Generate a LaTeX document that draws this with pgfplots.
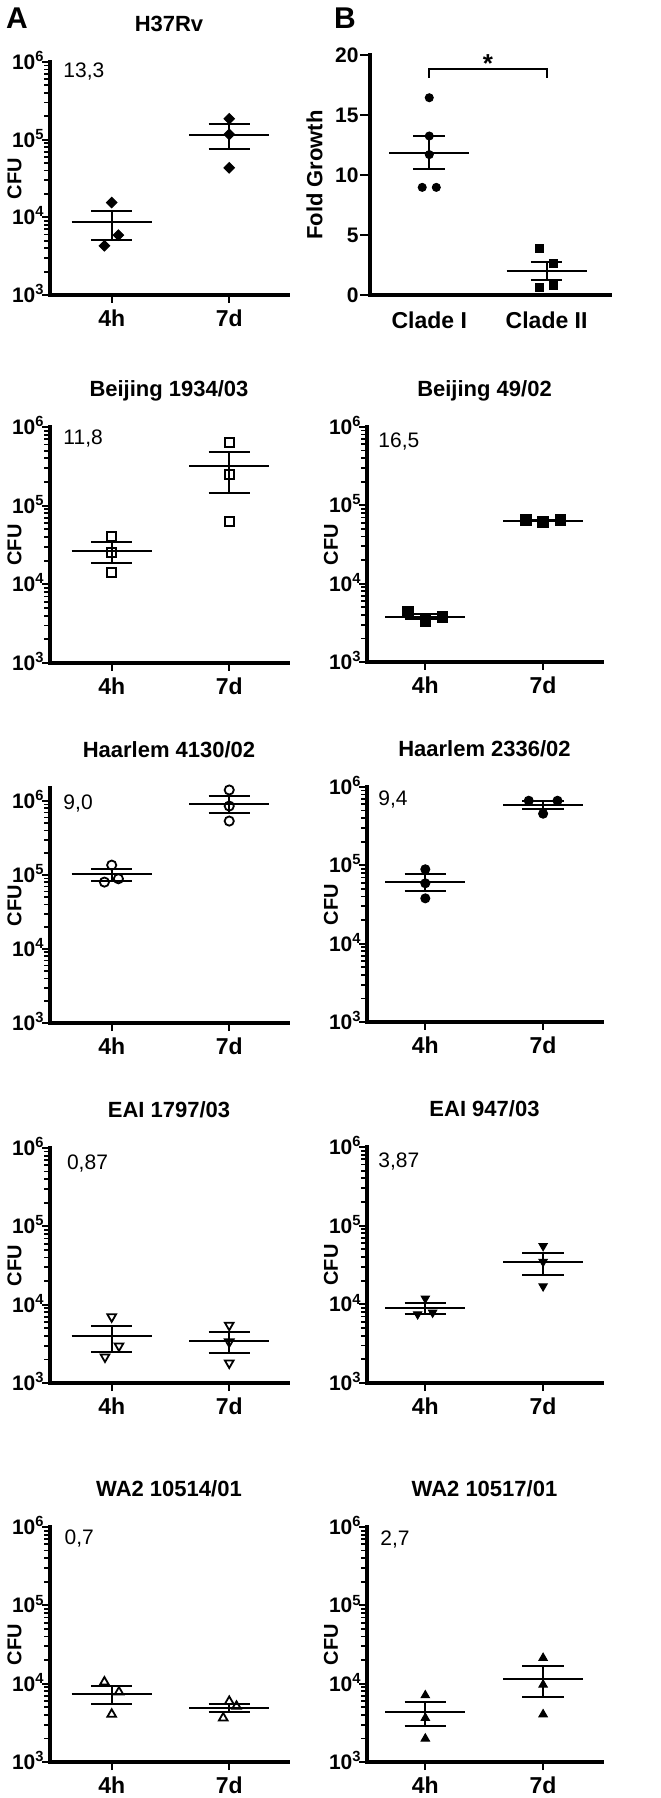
\documentclass[border=0pt]{standalone}
\usepackage{fontspec}
\setmainfont{Liberation Sans}
\usepackage{pgfplots}
\pgfplotsset{compat=1.18}

\tikzset{ann/.style={anchor=west, inner sep=0pt, font=\fontsize{10.5}{12}\selectfont}}
\pgfplotsset{msl/.style={mark=none, black, line width=1pt, line cap=butt}}
\newcommand{\msA}[3]{%
  \addplot[msl] coordinates {(-0.34,#1) (0.34,#1)};
  \addplot[msl] coordinates {(-0.175,#3) (0.175,#3)};
  \addplot[msl] coordinates {(-0.175,#2) (0.175,#2)};
  \addplot[msl] coordinates {(0,#2) (0,#3)};}
\newcommand{\msB}[3]{%
  \addplot[msl] coordinates {(0.66,#1) (1.34,#1)};
  \addplot[msl] coordinates {(0.825,#3) (1.175,#3)};
  \addplot[msl] coordinates {(0.825,#2) (1.175,#2)};
  \addplot[msl] coordinates {(1,#2) (1,#3)};}

\begin{document}
\begin{tikzpicture}
\path[use as bounding box] (0,0) rectangle (330pt,-899pt);
\node[font=\fontsize{15}{17}\selectfont\bfseries] at (8.5pt,-9pt) {A};
\node[font=\fontsize{15}{17}\selectfont\bfseries] at (172.5pt,-9pt) {B};

% ---------- H37Rv
\begin{axis}[ymode=log, ymin=1e3, ymax=1e6, xmin=-0.525, xmax=1.5, width=119pt, height=116.5pt,
  scale only axis, anchor=south west, at={(25pt,-147.5pt)}, axis x line*=bottom, axis y line*=left, tick pos=left,
  axis line style={line width=1.6pt, line cap=rect, black}, clip=false,
  tick align=outside, tick style={line width=0.9pt, black}, major tick length=4pt, minor tick length=2.8pt,
  xtick={0,1}, xticklabels={4h,7d}, ytick={1e3,1e4,1e5,1e6},
  yticklabels={10\textsuperscript{3},10\textsuperscript{4},10\textsuperscript{5},10\textsuperscript{6}},
  minor ytick={2000,3000,4000,5000,6000,7000,8000,9000,20000,30000,40000,50000,60000,70000,80000,90000,200000,300000,400000,500000,600000,700000,800000,900000},
  xticklabel style={font=\fontsize{11.5}{13}\selectfont\bfseries},
  yticklabel style={font=\fontsize{10.5}{12}\selectfont\bfseries, anchor=base east, yshift=-3.8pt, xshift=1.5pt, inner sep=0pt},
  title style={font=\fontsize{11}{13}\selectfont\bfseries, at={(0.5,1)}, anchor=base, yshift=9.4pt},
  ylabel style={font=\fontsize{10}{12}\selectfont\bfseries, at={(axis description cs:-0.149,0.5)}, anchor=center},
  ylabel={CFU}, title={H37Rv}]
\addplot[only marks, black, mark=square*, mark size=1.85pt, mark options={rotate=45, line width=0.5pt}]
  coordinates {(0,15500) (0.057,5900) (-0.062,4300) (1,186000) (1,117000) (1,43400)};
\msA{8600}{5100}{12000}
\msB{116000}{76000}{158000}
\node[ann] at (rel axis cs:0.055,0.957) {13,3};
\end{axis}

% ---------- B: fold growth
\begin{axis}[ymin=0, ymax=20, xmin=-0.505, xmax=1.54, width=120pt, height=120pt,
  scale only axis, anchor=south west, at={(185pt,-147.5pt)}, axis x line*=bottom, axis y line*=left, tick pos=left,
  axis line style={line width=1.6pt, line cap=rect, black}, clip=false,
  tick align=outside, tick style={line width=1pt, black}, major tick length=5pt,
  xtick={0,1}, xticklabels={Clade I,Clade II}, xtick style={draw=none},
  ytick={0,5,10,15,20}, yticklabels={0,5,10,15,20},
  xticklabel style={font=\fontsize{11.5}{13}\selectfont\bfseries},
  yticklabel style={font=\fontsize{10.5}{12}\selectfont\bfseries, inner sep=0.5pt},
  ylabel style={font=\fontsize{11}{13}\selectfont\bfseries, at={(axis description cs:-0.231,0.5)}, anchor=center},
  ylabel={Fold Growth}]
\addplot[only marks, black, mark=*, mark size=2.0pt, mark options={line width=0.5pt}]
  coordinates {(0,16.44) (0,13.25) (0,11.7) (-0.06,8.97) (0.06,8.97)};
\addplot[only marks, black, mark=square*, mark size=2.0pt, mark options={line width=0.5pt}]
  coordinates {(0.94,3.89) (1.06,2.64) (0.94,0.64) (1.06,0.83)};
\addplot[msl] coordinates {(-0.34,11.86) (0.34,11.86)};
\addplot[msl] coordinates {(-0.135,13.28) (0.135,13.28)};
\addplot[msl] coordinates {(-0.135,10.47) (0.135,10.47)};
\addplot[msl] coordinates {(0,10.47) (0,13.28)};
\addplot[msl] coordinates {(0.66,2.03) (1.34,2.03)};
\addplot[msl] coordinates {(0.865,2.75) (1.135,2.75)};
\addplot[msl] coordinates {(0.865,1.25) (1.135,1.25)};
\addplot[msl] coordinates {(1,1.25) (1,2.75)};
\addplot[msl, line cap=rect] coordinates {(0,18.2) (0,18.85) (1,18.85) (1,18.2)};
\node[font=\fontsize{13}{15}\selectfont\bfseries, inner sep=0pt] at (axis cs:0.5,19.3) {*};
\end{axis}

% ---------- Beijing 1934/03
\begin{axis}[ymode=log, ymin=1e3, ymax=1e6, xmin=-0.525, xmax=1.5, width=119pt, height=118pt,
  scale only axis, anchor=south west, at={(25pt,-331.5pt)}, axis x line*=bottom, axis y line*=left, tick pos=left,
  axis line style={line width=1.6pt, line cap=rect, black}, clip=false,
  tick align=outside, tick style={line width=0.9pt, black}, major tick length=4pt, minor tick length=2.8pt,
  xtick={0,1}, xticklabels={4h,7d}, ytick={1e3,1e4,1e5,1e6},
  yticklabels={10\textsuperscript{3},10\textsuperscript{4},10\textsuperscript{5},10\textsuperscript{6}},
  minor ytick={2000,3000,4000,5000,6000,7000,8000,9000,20000,30000,40000,50000,60000,70000,80000,90000,200000,300000,400000,500000,600000,700000,800000,900000},
  xticklabel style={font=\fontsize{11.5}{13}\selectfont\bfseries},
  yticklabel style={font=\fontsize{10.5}{12}\selectfont\bfseries, anchor=base east, yshift=-3.8pt, xshift=1.5pt, inner sep=0pt},
  title style={font=\fontsize{11}{13}\selectfont\bfseries, at={(0.5,1)}, anchor=base, yshift=9.4pt},
  ylabel style={font=\fontsize{10}{12}\selectfont\bfseries, at={(axis description cs:-0.149,0.5)}, anchor=center},
  ylabel={CFU}, title={Beijing 1934/03}]
\addplot[only marks, black, mark=square, mark size=2.3pt, mark options={line width=0.9pt}]
  coordinates {(0,40400) (0,25500) (0,14200) (1,637000) (1,247000) (1,62700)};
\msA{26800}{18800}{34200}
\msB{316000}{144000}{480000}
\node[ann] at (rel axis cs:0.055,0.953) {11,8};
\end{axis}

% ---------- Beijing 49/02
\begin{axis}[ymode=log, ymin=1e3, ymax=1e6, xmin=-0.495, xmax=1.5, width=117.5pt, height=117.5pt,
  scale only axis, anchor=south west, at={(183.5pt,-331pt)}, axis x line*=bottom, axis y line*=left, tick pos=left,
  axis line style={line width=1.6pt, line cap=rect, black}, clip=false,
  tick align=outside, tick style={line width=0.9pt, black}, major tick length=4pt, minor tick length=2.8pt,
  xtick={0,1}, xticklabels={4h,7d}, ytick={1e3,1e4,1e5,1e6},
  yticklabels={10\textsuperscript{3},10\textsuperscript{4},10\textsuperscript{5},10\textsuperscript{6}},
  minor ytick={2000,3000,4000,5000,6000,7000,8000,9000,20000,30000,40000,50000,60000,70000,80000,90000,200000,300000,400000,500000,600000,700000,800000,900000},
  xticklabel style={font=\fontsize{11.5}{13}\selectfont\bfseries},
  yticklabel style={font=\fontsize{10.5}{12}\selectfont\bfseries, anchor=base east, yshift=-3.8pt, xshift=1.5pt, inner sep=0pt},
  title style={font=\fontsize{11}{13}\selectfont\bfseries, at={(0.5,1)}, anchor=base, yshift=9.4pt},
  ylabel style={font=\fontsize{10}{12}\selectfont\bfseries, at={(axis description cs:-0.153,0.5)}, anchor=center},
  ylabel={CFU}, title={Beijing 49/02}]
\msA{3800}{3530}{4130}
\msB{63600}{62500}{64700}
\addplot[only marks, black, mark=square*, mark size=2.65pt, mark options={line width=0.5pt}]
  coordinates {(-0.147,4370) (0,3350) (0.147,3770) (0.853,65000) (1,61400) (1.147,64500)};
\node[ann] at (rel axis cs:0.047,0.94) {16,5};
\end{axis}

% ---------- Haarlem 4130/02
\begin{axis}[ymode=log, ymin=1e3, ymax=1.5e6, xmin=-0.525, xmax=1.5, width=119pt, height=117.5pt,
  scale only axis, anchor=south west, at={(25pt,-511.5pt)}, axis x line*=bottom, axis y line*=left, tick pos=left,
  axis line style={line width=1.6pt, line cap=rect, black}, clip=false,
  tick align=outside, tick style={line width=0.9pt, black}, major tick length=4pt, minor tick length=2.8pt,
  xtick={0,1}, xticklabels={4h,7d}, ytick={1e3,1e4,1e5,1e6},
  yticklabels={10\textsuperscript{3},10\textsuperscript{4},10\textsuperscript{5},10\textsuperscript{6}},
  minor ytick={2000,3000,4000,5000,6000,7000,8000,9000,20000,30000,40000,50000,60000,70000,80000,90000,200000,300000,400000,500000,600000,700000,800000,900000},
  xticklabel style={font=\fontsize{11.5}{13}\selectfont\bfseries},
  yticklabel style={font=\fontsize{10.5}{12}\selectfont\bfseries, anchor=base east, yshift=-3.8pt, xshift=1.5pt, inner sep=0pt},
  title style={font=\fontsize{11}{13}\selectfont\bfseries, at={(0.5,1)}, anchor=base, yshift=9.4pt},
  ylabel style={font=\fontsize{10}{12}\selectfont\bfseries, at={(axis description cs:-0.149,0.5)}, anchor=center},
  ylabel={CFU}, title={Haarlem 4130/02}]
\addplot[only marks, black, mark=o, mark size=2.3pt, mark options={line width=0.9pt}]
  coordinates {(0,136000) (-0.062,80200) (0.057,89000) (1,1410000) (1,855000) (1,536000)};
\msA{102000}{84300}{119000}
\msB{920000}{681000}{1170000}
\node[ann] at (rel axis cs:0.055,0.932) {9,0};
\end{axis}

% ---------- Haarlem 2336/02
\begin{axis}[ymode=log, ymin=1e3, ymax=1e6, xmin=-0.495, xmax=1.5, width=117.5pt, height=117.5pt,
  scale only axis, anchor=south west, at={(183.5pt,-511pt)}, axis x line*=bottom, axis y line*=left, tick pos=left,
  axis line style={line width=1.6pt, line cap=rect, black}, clip=false,
  tick align=outside, tick style={line width=0.9pt, black}, major tick length=4pt, minor tick length=2.8pt,
  xtick={0,1}, xticklabels={4h,7d}, ytick={1e3,1e4,1e5,1e6},
  yticklabels={10\textsuperscript{3},10\textsuperscript{4},10\textsuperscript{5},10\textsuperscript{6}},
  minor ytick={2000,3000,4000,5000,6000,7000,8000,9000,20000,30000,40000,50000,60000,70000,80000,90000,200000,300000,400000,500000,600000,700000,800000,900000},
  xticklabel style={font=\fontsize{11.5}{13}\selectfont\bfseries},
  yticklabel style={font=\fontsize{10.5}{12}\selectfont\bfseries, anchor=base east, yshift=-3.8pt, xshift=1.5pt, inner sep=0pt},
  title style={font=\fontsize{11}{13}\selectfont\bfseries, at={(0.5,1)}, anchor=base, yshift=9.4pt},
  ylabel style={font=\fontsize{10}{12}\selectfont\bfseries, at={(axis description cs:-0.153,0.5)}, anchor=center},
  ylabel={CFU}, title={Haarlem 2336/02}]
\addplot[only marks, black, mark=*, mark size=2.25pt, mark options={line width=0.5pt}]
  coordinates {(0,89100) (0,59000) (0,37900) (0.878,668000) (1.122,668000) (1,456000)};
\msA{62000}{47100}{77600}
\msB{594000}{528000}{656000}
\node[ann] at (rel axis cs:0.047,0.947) {9,4};
\end{axis}

% ---------- EAI 1797/03
\begin{axis}[ymode=log, ymin=1e3, ymax=1e6, xmin=-0.525, xmax=1.5, width=119pt, height=117.5pt,
  scale only axis, anchor=south west, at={(25pt,-691.5pt)}, axis x line*=bottom, axis y line*=left, tick pos=left,
  axis line style={line width=1.6pt, line cap=rect, black}, clip=false,
  tick align=outside, tick style={line width=0.9pt, black}, major tick length=4pt, minor tick length=2.8pt,
  xtick={0,1}, xticklabels={4h,7d}, ytick={1e3,1e4,1e5,1e6},
  yticklabels={10\textsuperscript{3},10\textsuperscript{4},10\textsuperscript{5},10\textsuperscript{6}},
  minor ytick={2000,3000,4000,5000,6000,7000,8000,9000,20000,30000,40000,50000,60000,70000,80000,90000,200000,300000,400000,500000,600000,700000,800000,900000},
  xticklabel style={font=\fontsize{11.5}{13}\selectfont\bfseries},
  yticklabel style={font=\fontsize{10.5}{12}\selectfont\bfseries, anchor=base east, yshift=-3.8pt, xshift=1.5pt, inner sep=0pt},
  title style={font=\fontsize{11}{13}\selectfont\bfseries, at={(0.5,1)}, anchor=base, yshift=9.4pt},
  ylabel style={font=\fontsize{10}{12}\selectfont\bfseries, at={(axis description cs:-0.149,0.5)}, anchor=center},
  ylabel={CFU}, title={EAI 1797/03}]
\addplot[only marks, black, mark=triangle, mark size=2.5pt, mark options={rotate=180, line width=0.9pt}]
  coordinates {(0,7000) (0.062,2970) (-0.057,2150) (1,5470) (1,3350) (1,1800)};
\msA{3950}{2500}{5360}
\msB{3450}{2440}{4450}
\node[ann] at (rel axis cs:0.07,0.936) {0,87};
\end{axis}

% ---------- EAI 947/03
\begin{axis}[ymode=log, ymin=1e3, ymax=1e6, xmin=-0.495, xmax=1.5, width=117.5pt, height=118pt,
  scale only axis, anchor=south west, at={(183.5pt,-691.5pt)}, axis x line*=bottom, axis y line*=left, tick pos=left,
  axis line style={line width=1.6pt, line cap=rect, black}, clip=false,
  tick align=outside, tick style={line width=0.9pt, black}, major tick length=4pt, minor tick length=2.8pt,
  xtick={0,1}, xticklabels={4h,7d}, ytick={1e3,1e4,1e5,1e6},
  yticklabels={10\textsuperscript{3},10\textsuperscript{4},10\textsuperscript{5},10\textsuperscript{6}},
  minor ytick={2000,3000,4000,5000,6000,7000,8000,9000,20000,30000,40000,50000,60000,70000,80000,90000,200000,300000,400000,500000,600000,700000,800000,900000},
  xticklabel style={font=\fontsize{11.5}{13}\selectfont\bfseries},
  yticklabel style={font=\fontsize{10.5}{12}\selectfont\bfseries, anchor=base east, yshift=-3.8pt, xshift=1.5pt, inner sep=0pt},
  title style={font=\fontsize{11}{13}\selectfont\bfseries, at={(0.5,1)}, anchor=base, yshift=9.4pt},
  ylabel style={font=\fontsize{10}{12}\selectfont\bfseries, at={(axis description cs:-0.153,0.5)}, anchor=center},
  ylabel={CFU}, title={EAI 947/03}]
\addplot[only marks, black, mark=triangle*, mark size=2.4pt, mark options={rotate=180, line width=0.5pt}]
  coordinates {(0,11900) (-0.065,7500) (0.062,7870) (1,55200) (1,34800) (1,17000)};
\msA{8860}{7500}{10300}
\msB{34500}{23500}{45400}
\node[ann] at (rel axis cs:0.047,0.94) {3,87};
\end{axis}

% ---------- WA2 10514/01
\begin{axis}[ymode=log, ymin=1e3, ymax=1e6, xmin=-0.525, xmax=1.5, width=119pt, height=117.5pt,
  scale only axis, anchor=south west, at={(25pt,-881pt)}, axis x line*=bottom, axis y line*=left, tick pos=left,
  axis line style={line width=1.6pt, line cap=rect, black}, clip=false,
  tick align=outside, tick style={line width=0.9pt, black}, major tick length=4pt, minor tick length=2.8pt,
  xtick={0,1}, xticklabels={4h,7d}, ytick={1e3,1e4,1e5,1e6},
  yticklabels={10\textsuperscript{3},10\textsuperscript{4},10\textsuperscript{5},10\textsuperscript{6}},
  minor ytick={2000,3000,4000,5000,6000,7000,8000,9000,20000,30000,40000,50000,60000,70000,80000,90000,200000,300000,400000,500000,600000,700000,800000,900000},
  xticklabel style={font=\fontsize{11.5}{13}\selectfont\bfseries},
  yticklabel style={font=\fontsize{10.5}{12}\selectfont\bfseries, anchor=base east, yshift=-3.8pt, xshift=1.5pt, inner sep=0pt},
  title style={font=\fontsize{11}{13}\selectfont\bfseries, at={(0.5,1)}, anchor=base, yshift=9.4pt},
  ylabel style={font=\fontsize{10}{12}\selectfont\bfseries, at={(axis description cs:-0.149,0.5)}, anchor=center},
  ylabel={CFU}, title={WA2 10514/01}]
\addplot[only marks, black, mark=triangle, mark size=2.5pt, mark options={line width=0.9pt}]
  coordinates {(-0.062,10500) (0.062,7830) (0,4070) (1,5940) (1.062,5140) (0.949,3650)};
\msA{7450}{5560}{9330}
\msB{4940}{4300}{5560}
\node[ann] at (rel axis cs:0.06,0.949) {0,7};
\end{axis}

% ---------- WA2 10517/01
\begin{axis}[ymode=log, ymin=1e3, ymax=1e6, xmin=-0.495, xmax=1.5, width=117.5pt, height=117.5pt,
  scale only axis, anchor=south west, at={(183.5pt,-881pt)}, axis x line*=bottom, axis y line*=left, tick pos=left,
  axis line style={line width=1.6pt, line cap=rect, black}, clip=false,
  tick align=outside, tick style={line width=0.9pt, black}, major tick length=4pt, minor tick length=2.8pt,
  xtick={0,1}, xticklabels={4h,7d}, ytick={1e3,1e4,1e5,1e6},
  yticklabels={10\textsuperscript{3},10\textsuperscript{4},10\textsuperscript{5},10\textsuperscript{6}},
  minor ytick={2000,3000,4000,5000,6000,7000,8000,9000,20000,30000,40000,50000,60000,70000,80000,90000,200000,300000,400000,500000,600000,700000,800000,900000},
  xticklabel style={font=\fontsize{11.5}{13}\selectfont\bfseries},
  yticklabel style={font=\fontsize{10.5}{12}\selectfont\bfseries, anchor=base east, yshift=-3.8pt, xshift=1.5pt, inner sep=0pt},
  title style={font=\fontsize{11}{13}\selectfont\bfseries, at={(0.5,1)}, anchor=base, yshift=9.4pt},
  ylabel style={font=\fontsize{10}{12}\selectfont\bfseries, at={(axis description cs:-0.153,0.5)}, anchor=center},
  ylabel={CFU}, title={WA2 10517/01}]
\addplot[only marks, black, mark=triangle*, mark size=2.4pt, mark options={line width=0.5pt}]
  coordinates {(0,7100) (0,3650) (0,1990) (1,21300) (1,9710) (1,4060)};
\msA{4300}{2850}{5840}
\msB{11600}{6760}{16600}
\node[ann] at (rel axis cs:0.055,0.945) {2,7};
\end{axis}
\end{tikzpicture}
\end{document}
